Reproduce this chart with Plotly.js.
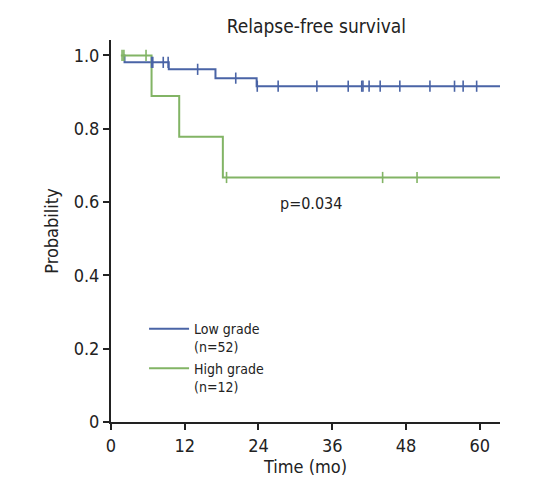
<!DOCTYPE html>
<html>
<head>
<meta charset="utf-8">
<script src="https://cdn.plot.ly/plotly-3.0.1.min.js"></script>
<style>html,body{margin:0;padding:0;background:#fff;}#chart{width:556px;height:481px;}</style>
</head>
<body>
<div id="chart"></div>
<script>
// Low grade (n=52): step times (months) and survival probability
const lowTimes = [2.0, 2.2, 9.4, 17.0, 23.7, 63.3];
const lowSurv  = [1.0, 0.981, 0.962, 0.938, 0.916, 0.916];
const lowCensor = [6.6, 6.8, 8.5, 9.3, 14.1, 20.3, 23.8, 27.2, 33.5, 38.6, 40.8, 41.0, 42.0, 43.8, 47.0, 51.9, 55.9, 57.3, 59.5];

// High grade (n=12)
const highTimes = [1.6, 6.6, 11.1, 18.2, 63.3];
const highSurv  = [1.0, 0.889, 0.778, 0.667, 0.667];
const highCensor = [1.8, 2.1, 5.7, 18.8, 44.2, 49.8];

const xTicks = [0, 12, 24, 36, 48, 60];
const xTickText = ['0', '12', '24', '36', '48', '60'];
const yTicks = [0, 0.2, 0.4, 0.6, 0.8, 1.0];
const yTickText = ['0', '0.2', '0.4', '0.6', '0.8', '1.0'];

const seriesNames = ['Low grade<br>(n=52)', 'High grade<br>(n=12)'];
const titleText = 'Relapse-free survival';
const pText = 'p=0.034';

const BLUE = '#4a64a6';
const GREEN = '#82b465';
const FONT = '"Liberation Sans Narrow", "DejaVu Sans Condensed", "Arial Narrow", sans-serif';

function stepAt(times, surv, t) {
  let v = surv[0];
  for (let i = 0; i < times.length; i++) { if (times[i] <= t) v = surv[i]; }
  return v;
}

const traces = [
  {x: lowTimes, y: lowSurv, mode: 'lines', line: {shape: 'hv', color: BLUE, width: 2}, name: seriesNames[0]},
  {x: highTimes, y: highSurv, mode: 'lines', line: {shape: 'hv', color: GREEN, width: 2}, name: seriesNames[1]},
  {x: lowCensor, y: lowCensor.map(t => stepAt(lowTimes, lowSurv, t)), mode: 'markers', showlegend: false,
   marker: {symbol: 'line-ns', size: 8, line: {color: BLUE, width: 1.6}}},
  {x: highCensor, y: highCensor.map(t => stepAt(highTimes, highSurv, t)), mode: 'markers', showlegend: false,
   marker: {symbol: 'line-ns', size: 8, line: {color: GREEN, width: 1.6}}}
];

const layout = {
  width: 556, height: 481,
  margin: {l: 111, r: 56, t: 40, b: 59},
  paper_bgcolor: '#fff', plot_bgcolor: '#fff',
  font: {family: FONT, color: '#222', size: 18},
  title: {text: titleText, font: {family: FONT, size: 19, color: '#222'}, xref: 'container', yref: 'container', x: 0.569, y: 0.945, xanchor: 'center', yanchor: 'middle'},
  xaxis: {
    range: [0, 63.3], tickvals: xTicks, ticktext: xTickText,
    showline: true, linewidth: 2, linecolor: '#222', ticks: 'outside', ticklen: 6, tickwidth: 2, tickcolor: '#222',
    showgrid: false, zeroline: false, tickfont: {size: 18},
    title: {text: 'Time (mo)', font: {size: 18}, standoff: 6}
  },
  yaxis: {
    range: [0, 1.042], tickvals: yTicks, ticktext: yTickText,
    showline: true, linewidth: 2, linecolor: '#222', ticks: 'outside', ticklen: 6, tickwidth: 2, tickcolor: '#222',
    showgrid: false, zeroline: false, tickfont: {size: 18},
    title: {text: 'Probability', font: {size: 18}, standoff: 10}
  },
  showlegend: true,
  legend: {x: 0.085, y: 0.285, xanchor: 'left', yanchor: 'top', font: {size: 14}, valign: 'top', itemwidth: 40, tracegroupgap: 0, bgcolor: 'rgba(0,0,0,0)'},
  annotations: [{x: 32.5, y: 0.595, xref: 'x', yref: 'y', text: pText, showarrow: false, font: {size: 16, color: '#222'}}]
};

Plotly.newPlot('chart', traces, layout, {displayModeBar: false, staticPlot: true});
</script>
</body>
</html>
